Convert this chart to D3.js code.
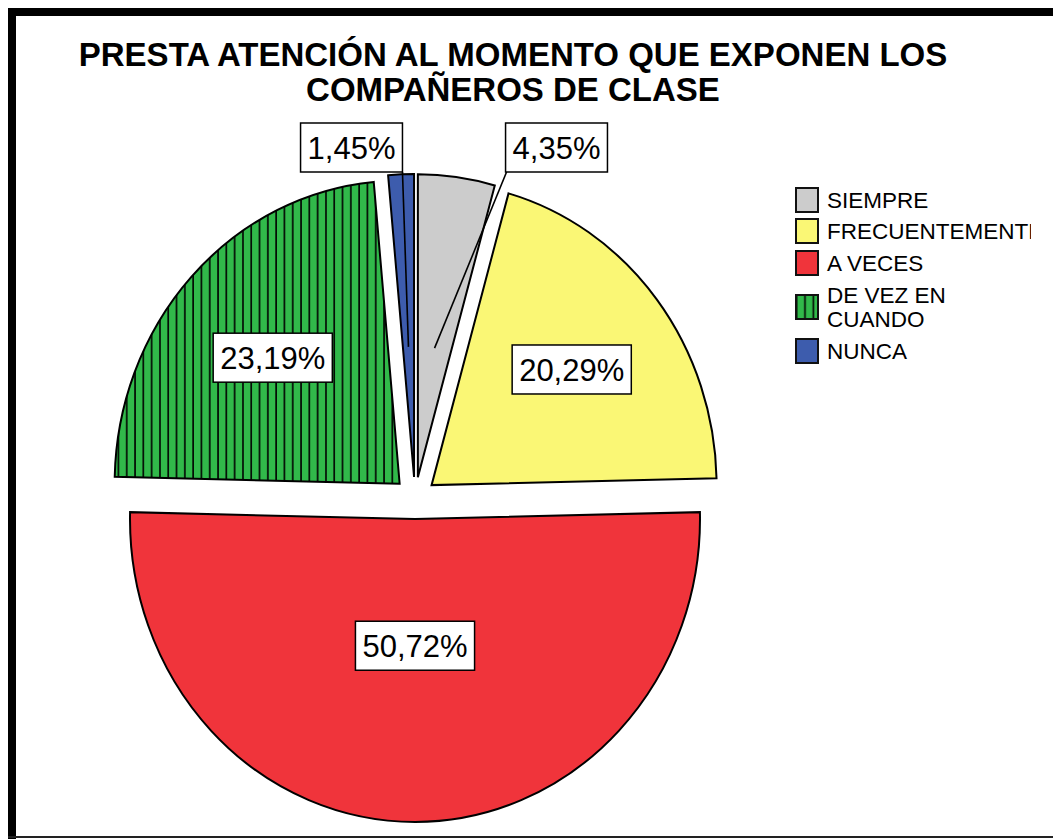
<!DOCTYPE html>
<html>
<head>
<meta charset="utf-8">
<script src="https://cdn.jsdelivr.net/npm/d3@7/dist/d3.min.js"></script>
<style>
  html, body { margin: 0; padding: 0; background: #fff; }
  svg { display: block; }
  text { font-family: "Liberation Sans", Arial, sans-serif; }
</style>
</head>
<body>
<svg id="chart" width="1053" height="839"></svg>
<script>
// ---- data ----
const categories = ["SIEMPRE", "FRECUENTEMENTE", "A VECES", "DE VEZ EN CUANDO", "NUNCA"];
const legendLabels = [["SIEMPRE"], ["FRECUENTEMENTE"], ["A VECES"], ["DE VEZ EN", "CUANDO"], ["NUNCA"]];
const percents = [4.35, 20.29, 50.72, 23.19, 1.45];
const colors = ["#cccccc", "#faf775", "#f0343b", "#31b94a", "#3d5cad"];
const titleLines = ["PRESTA ATENCIÓN AL MOMENTO QUE EXPONEN LOS", "COMPAÑEROS DE CLASE"];

// ---- layout ----
const W = 1053, H = 839;
const cx = 415, cy = 498, rx = 285, ry = 303, explode = 21;
const svg = d3.select("#chart");

const defs = svg.append("defs");
const pat = defs.append("pattern").attr("id", "hatch")
  .attr("patternUnits", "userSpaceOnUse").attr("width", 8.3).attr("height", 10);
pat.append("rect").attr("width", 8.3).attr("height", 10).attr("fill", colors[3]);
pat.append("line").attr("x1", 1).attr("x2", 1).attr("y1", 0).attr("y2", 10)
  .attr("stroke", "#000").attr("stroke-width", 1.6);

const pat2 = defs.append("pattern").attr("id", "hatchL")
  .attr("patternUnits", "userSpaceOnUse").attr("width", 8.3).attr("height", 10)
  .attr("x", 798);
pat2.append("rect").attr("width", 8.3).attr("height", 10).attr("fill", colors[3]);
pat2.append("line").attr("x1", 7).attr("x2", 7).attr("y1", 0).attr("y2", 10)
  .attr("stroke", "#000").attr("stroke-width", 1.6);

// frame
svg.append("rect").attr("x", 8).attr("y", 8).attr("width", W - 8).attr("height", 8).attr("fill", "#000");
svg.append("rect").attr("x", 8).attr("y", 8).attr("width", 8).attr("height", H - 8).attr("fill", "#000");
svg.append("rect").attr("x", 8).attr("y", 836).attr("width", W - 8).attr("height", 2).attr("fill", "#222");

// title
svg.append("g").selectAll("text").data(titleLines).join("text")
  .attr("x", 513).attr("y", (d, i) => 66 + i * 35)
  .attr("text-anchor", "middle").attr("font-weight", "bold").attr("font-size", 33)
  .attr("fill", "#000").text(d => d);

// pie
const pie = d3.pie().sort(null).value(d => d);
const arcs = pie(percents);

function ept(a, r) { return [rx * r * Math.sin(a), -ry * r * Math.cos(a)]; }
function slicePath(a0, a1) {
  const [x0, y0] = ept(a0, 1), [x1, y1] = ept(a1, 1);
  const large = (a1 - a0) > Math.PI ? 1 : 0;
  return `M0,0L${x0},${y0}A${rx},${ry} 0 ${large} 1 ${x1},${y1}Z`;
}

const slices = svg.append("g").selectAll("g").data(arcs).join("g")
  .attr("transform", d => {
    const m = (d.startAngle + d.endAngle) / 2;
    return `translate(${cx + explode * Math.sin(m)},${cy - explode * Math.cos(m)})`;
  });
slices.append("path")
  .attr("d", d => slicePath(d.startAngle, d.endAngle))
  .attr("fill", (d, i) => i === 3 ? "url(#hatch)" : colors[i])
  .attr("stroke", "#000").attr("stroke-width", 2).attr("stroke-linejoin", "miter");

// labels
const loc = d3.formatLocale({decimal: ",", thousands: ".", grouping: [3], currency: ["", "€"]});
const fmt = v => loc.format(".2f")(v) + "%";
const FS = 31;

function drawLabel(g, x, y, txt) {
  const t = g.append("text").attr("x", x).attr("y", y + FS * 0.36)
    .attr("text-anchor", "middle").attr("font-size", FS).attr("fill", "#000").text(txt);
  const bw = t.node().getComputedTextLength() + 14, bh = 49;
  g.insert("rect", "text").attr("x", x - bw / 2).attr("y", y - bh / 2)
    .attr("width", bw).attr("height", bh).attr("fill", "#fff")
    .attr("stroke", "#000").attr("stroke-width", 1.5);
  return bw;
}

const labelG = svg.append("g");
arcs.forEach((d, i) => {
  const m = (d.startAngle + d.endAngle) / 2;
  const ox = cx + explode * Math.sin(m), oy = cy - explode * Math.cos(m);
  const theta = d.endAngle - d.startAngle;
  if (d.data > 10) {
    const rc = 2 * Math.sin(theta / 2) / (3 * theta / 2);
    const [px, py] = ept(m, rc);
    drawLabel(labelG.append("g"), ox + px, oy + py, fmt(d.data));
  } else {
    // callout for small slices
    const [px, py] = ept(m, 0.43);
    const endY = cy - ry - 23;
    const side = m > Math.PI ? -1 : 1;
    const endX = side < 0 ? ox + px - 6 : ox + px + 72;
    labelG.append("line").attr("x1", ox + px).attr("y1", oy + py)
      .attr("x2", endX).attr("y2", endY).attr("stroke", "#000").attr("stroke-width", 1.6);
    const g = labelG.append("g");
    const tmp = g.append("text").attr("font-size", FS).text(fmt(d.data));
    const bw = tmp.node().getComputedTextLength() + 14;
    tmp.remove();
    const bx = side < 0 ? endX - bw / 2 : endX + bw / 2 - 1;
    drawLabel(g, bx, endY - 24.5, fmt(d.data));
  }
});

// legend
const legX = 796, legYs = [188, 219, 251, 295, 339];
defs.append("clipPath").attr("id", "legClip").append("rect")
  .attr("x", 780).attr("y", 170).attr("width", 251).attr("height", 220);
const leg = svg.append("g").attr("clip-path", "url(#legClip)");
categories.forEach((c, i) => {
  const y = legYs[i];
  leg.append("rect").attr("x", legX).attr("y", y).attr("width", 22).attr("height", 24)
    .attr("fill", i === 3 ? "url(#hatchL)" : colors[i]).attr("stroke", "#111").attr("stroke-width", 2);
  legendLabels[i].forEach((t, j) => {
    const n = legendLabels[i].length;
    leg.append("text").attr("x", 827)
      .attr("y", y + (n > 1 ? 8 : 20) + j * 24)
      .attr("font-size", 22.5).attr("fill", "#000").text(t);
  });
});
</script>
</body>
</html>
